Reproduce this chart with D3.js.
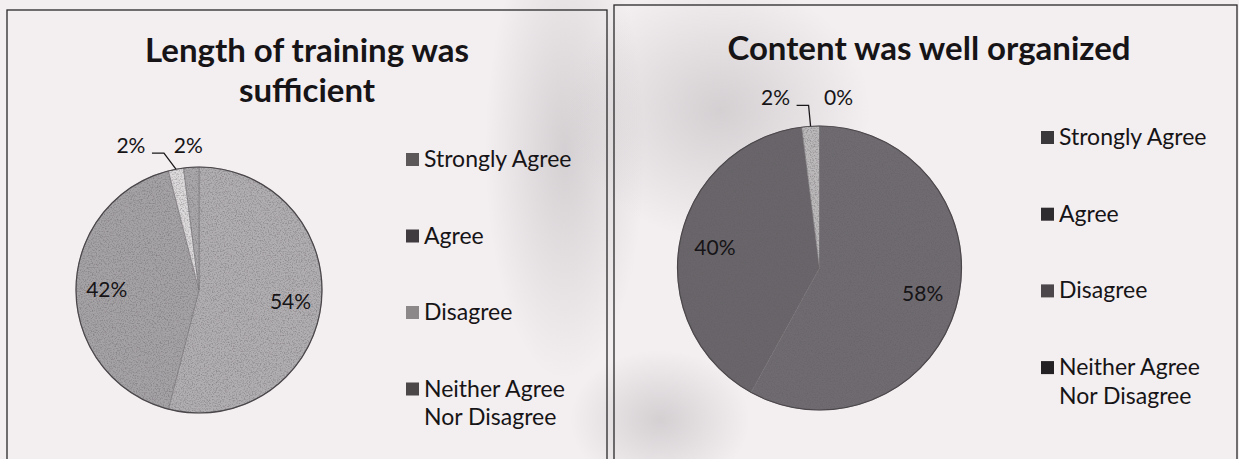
<!DOCTYPE html>
<html>
<head>
<meta charset="utf-8">
<script src="https://cdn.jsdelivr.net/npm/d3@7"></script>
<style>
  html, body { margin: 0; padding: 0; background: #f3eef0; }
  svg { display: block; }
  text { font-family: Lato, "Open Sans", sans-serif; fill: #161416; }
</style>
</head>
<body>
<svg id="chart" width="1239" height="459"></svg>
<script>
// ---- data ----
const categories = ["Strongly Agree", "Agree", "Disagree", "Neither Agree Nor Disagree"];
const lengthValues = [54, 42, 2, 2];
const contentValues = [58, 40, 2, 0];
const lengthTitle = ["Length of training was", "sufficient"];
const contentTitle = ["Content was well organized"];

// ---- styling / layout ----
const charts = [
  {
    values: lengthValues, title: lengthTitle,
    cx: 199, cy: 290, r: 123,
    titleX: 307, titleY: 62, titleLine: 40, titleSize: 33,
    legX: 406, legY: 167, legStep: 76.5, legLine: 28,
    fills: ["#b2afb2", "#a6a3a7", "#dedbdd", "#aaa8ab"],
    swatch: ["#5c585a", "#3f3b3e", "#8c888a", "#4b4749"],
    smallOffsets: [null, null, [-45, -23], [-3, -21]],
    box: [7, 10, 600, 470]
  },
  {
    values: contentValues, title: contentTitle,
    cx: 819.5, cy: 268, r: 142,
    titleX: 929, titleY: 60, titleLine: 40, titleSize: 33,
    legX: 1041, legY: 145, legStep: 76.7, legLine: 29,
    fills: ["#6f6b71", "#69656a", "#bcb9bb", "#333033"],
    swatch: ["#3b383b", "#2f2c2f", "#4b474a", "#242124"],
    smallOffsets: [null, null, [-35, -28], [19, -28]],
    box: [614, 5, 623, 470]
  }
];

const svg = d3.select("#chart");
const defs = svg.append("defs");

// scanner smudges
const g1 = defs.append("radialGradient").attr("id", "smudge");
g1.append("stop").attr("offset", "0%").attr("stop-color", "#aeabae").attr("stop-opacity", 0.45);
g1.append("stop").attr("offset", "100%").attr("stop-color", "#aeabae").attr("stop-opacity", 0);

// speckle texture for the scanned pies
const speck = defs.append("filter").attr("id", "speck").attr("x", 0).attr("y", 0).attr("width", 1).attr("height", 1);
speck.append("feTurbulence").attr("type", "fractalNoise").attr("baseFrequency", 0.75).attr("numOctaves", 2).attr("seed", 7).attr("result", "n");
speck.append("feColorMatrix").attr("in", "n").attr("type", "matrix")
  .attr("values", "0 0 0 0 0.12  0 0 0 0 0.11  0 0 0 0 0.12  2.2 0 0 0 -0.95").attr("result", "s");
speck.append("feComposite").attr("in", "s").attr("in2", "SourceAlpha").attr("operator", "in");

svg.append("rect").attr("width", 1239).attr("height", 459).attr("fill", "#f3eef0");
[[565, 150, 80, 230], [720, 110, 150, 130], [660, 420, 90, 70]].forEach(([x, y, rx, ry]) => {
  svg.append("ellipse").attr("cx", x).attr("cy", y).attr("rx", rx).attr("ry", ry).attr("fill", "url(#smudge)");
});

const pie = d3.pie().sort(null).value(d => d).startAngle(0).endAngle(2 * Math.PI);

charts.forEach(c => {
  const g = svg.append("g");

  // panel border
  g.append("rect").attr("x", c.box[0]).attr("y", c.box[1]).attr("width", c.box[2]).attr("height", c.box[3])
    .attr("fill", "none").attr("stroke", "#2a282a").attr("stroke-width", 1.3);

  // title
  const t = g.append("text").attr("text-anchor", "middle").attr("font-size", c.titleSize).attr("font-weight", 700);
  c.title.forEach((line, i) => {
    t.append("tspan").attr("x", c.titleX).attr("y", c.titleY + i * c.titleLine).text(line);
  });

  // pie
  const arcs = pie(c.values);
  const arc = d3.arc().innerRadius(0).outerRadius(c.r);
  const labelArc = d3.arc().innerRadius(c.r * 0.75).outerRadius(c.r * 0.75);
  const edgeArc = d3.arc().innerRadius(c.r).outerRadius(c.r);

  const pg = g.append("g").attr("transform", `translate(${c.cx},${c.cy})`);
  pg.selectAll("path").data(arcs).join("path")
    .attr("d", arc)
    .attr("fill", (d, i) => c.fills[i])
    .attr("stroke", "#7a777a").attr("stroke-width", 0.6);
  pg.append("circle").attr("r", c.r).attr("fill", "#000").attr("filter", "url(#speck)").attr("opacity", 0.55);
  pg.append("circle").attr("r", c.r).attr("fill", "none").attr("stroke", "#4a474a").attr("stroke-width", 1.2);

  // labels
  arcs.forEach((d, i) => {
    const pct = d3.format(".0%")(d.data / 100);
    if (c.smallOffsets[i]) {
      const a = edgeArc.centroid(d);
      const ax = c.cx + a[0], ay = c.cy + a[1];
      const lx = ax + c.smallOffsets[i][0], ly = ay + c.smallOffsets[i][1];
      g.append("text").attr("x", lx).attr("y", ly + 7).attr("text-anchor", "middle").attr("font-size", 21).text(pct);
      if (c.smallOffsets[i][0] < -20) {
        const ex = lx + 21;
        const elbow = Math.min(ax, ex + 12);
        g.append("path").attr("d", d3.line()([[ex, ly + 7], [elbow, ly + 7], [ax, ay]]))
          .attr("fill", "none").attr("stroke", "#1a181a").attr("stroke-width", 1.3);
      }
    } else {
      const p = labelArc.centroid(d);
      g.append("text").attr("x", c.cx + p[0]).attr("y", c.cy + p[1] + 7).attr("text-anchor", "middle")
        .attr("font-size", 21).text(pct);
    }
  });

  // legend
  categories.forEach((cat, i) => {
    const y = c.legY + i * c.legStep;
    g.append("rect").attr("x", c.legX).attr("y", y - 14).attr("width", 13).attr("height", 13)
      .attr("fill", c.swatch[i]);
    const words = cat.split(" ");
    const lines = words.length > 3 ? [words.slice(0, 2).join(" "), words.slice(2).join(" ")] : [cat];
    const tx = g.append("text").attr("font-size", 23);
    lines.forEach((ln, j) => {
      tx.append("tspan").attr("x", c.legX + 18).attr("y", y + j * c.legLine).text(ln);
    });
  });
});
</script>
</body>
</html>
